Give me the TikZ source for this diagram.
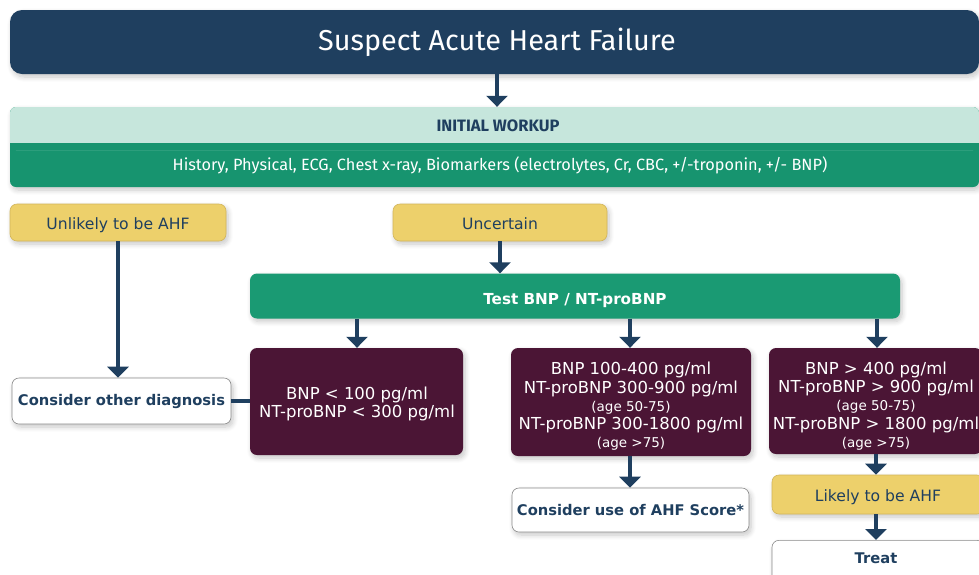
\documentclass[tikz,border=0pt]{standalone}
\usepackage{fontspec}
\setmainfont{DejaVu Sans}
\newfontfamily\titlefont{Fira Sans}
\usetikzlibrary{arrows.meta,shadows.blur}

\definecolor{navy}{HTML}{1F3F5F}
\definecolor{mint}{HTML}{C6E6DC}
\definecolor{workgreen}{HTML}{17946F}
\definecolor{testgreen}{HTML}{1A9A73}
\definecolor{plum}{HTML}{4B1535}
\definecolor{gold}{HTML}{EDD06B}
\definecolor{goldline}{HTML}{D2B55A}
\definecolor{greyline}{HTML}{8A8A8A}

\tikzset{
  shade box/.style={blur shadow={shadow blur steps=8, shadow xshift=2pt,
      shadow yshift=-3pt, shadow opacity=22, shadow blur radius=5pt}},
  box/.style={rounded corners=7pt, inner sep=0pt, align=center, shade box},
  titlebox/.style={box, rounded corners=12pt, fill=navy, text=white},
  yellowbox/.style={box, fill=gold, draw=goldline, line width=0.6pt,
      text=navy, font=\fontsize{15.6}{18}\selectfont,
      text height=14.4pt, text depth=0pt},
  greenbox/.style={box, fill=testgreen, text=white,
      font=\bfseries\fontsize{15.2}{18}\selectfont,
      text height=16pt, text depth=0pt},
  plumbox/.style={box, fill=plum},
  plumtext/.style={text=white, align=center, inner sep=0pt,
      font=\fontsize{16.5}{18.3}\selectfont},
  whitebox/.style={box, fill=white, draw=greyline, line width=0.6pt,
      text=navy, font=\bfseries\fontsize{14.7}{17}\selectfont},
  flow/.style={draw=navy, line width=3.5pt,
      -{Triangle[width=21pt,length=11pt]}},
  joint/.style={draw=navy, line width=3.5pt},
}
\newcommand{\agenote}[1]{{\fontsize{13.5}{14}\selectfont #1}}

\begin{document}
\begin{tikzpicture}[x=1pt,y=-1pt]
  \useasboundingbox (0,0) rectangle (979,574);
  \clip (0,0) rectangle (979,574);

  % title
  \node[titlebox, minimum width=969pt, minimum height=64pt] (title) at (494.5,42) {};
  \node[text=white, font=\titlefont\fontsize{28.8}{32}\selectfont] (titletext) at (497,42)
    {Suspect Acute Heart Failure};

  % initial workup block: light header over a green body
  \path[shade box, fill=workgreen, rounded corners=6pt]
    (10,107) rectangle (979,187);
  \fill[mint, rounded corners=6pt] (10,107) rectangle (979,150);
  \fill[mint] (10,130) rectangle (979,143);
  \fill[workgreen] (10,143) rectangle (979,150);
  \node[inner sep=0pt, minimum width=969pt, minimum height=36pt] (workup) at (494.5,125) {};
  \node[text=navy, font=\titlefont\bfseries\fontsize{16.5}{19}\selectfont] (workuphead) at (498,126)
    {INITIAL WORKUP};
  \node[text=white, font=\titlefont\fontsize{16.3}{19}\selectfont] (workupbody) at (500,165)
    {History, Physical, ECG, Chest x-ray, Biomarkers (electrolytes, Cr, CBC, +/-troponin, +/- BNP)};

  % first split
  \node[yellowbox, minimum width=216pt, minimum height=37pt] (unlikely) at (118,222.5)
    {Unlikely to be AHF};
  \node[yellowbox, minimum width=214pt, minimum height=37pt] (uncertain) at (500,222.5)
    {Uncertain};

  \node[greenbox, minimum width=650pt, minimum height=45pt] (test) at (575,296)
    {Test BNP / NT-proBNP};

  % BNP ranges
  \node[plumbox, minimum width=213pt, minimum height=107pt] (low) at (356.5,401.5) {};
  \node[plumtext] (lowtext) at (357,404)
    {BNP < 100 pg/ml\\NT-proBNP < 300 pg/ml};
  \node[plumbox, minimum width=240pt, minimum height=108pt] (mid) at (631,402) {};
  \node[plumtext] (midtext) at (631,406.5)
    {BNP 100-400 pg/ml\\NT-proBNP 300-900 pg/ml\\\agenote{(age 50-75)}\\
     NT-proBNP 300-1800 pg/ml\\\agenote{(age >75)}};
  \node[plumbox, minimum width=213pt, minimum height=106pt] (high) at (875.5,401) {};
  \node[plumtext] (hightext) at (876,406)
    {BNP > 400 pg/ml\\NT-proBNP > 900 pg/ml\\\agenote{(age 50-75)}\\
     NT-proBNP > 1800 pg/ml\\\agenote{(age >75)}};

  % outcomes
  \node[whitebox, minimum width=219pt, minimum height=46pt] (other) at (121.5,401)
    {Consider other diagnosis};
  \node[whitebox, minimum width=237pt, minimum height=44pt] (score) at (630.5,510)
    {Consider use of AHF Score*};
  \node[yellowbox, minimum width=212pt, minimum height=39pt] (likely) at (878,494.5)
    {Likely to be AHF};
  \node[whitebox, minimum width=212pt, minimum height=50pt, anchor=north] (treat) at (878,540)
    {};
  \node[text=navy, font=\bfseries\fontsize{14.7}{17}\selectfont] (treattext) at (876,558) {Treat};

  % connectors
  \draw[flow] (title.south -| 497,0) -- (workup.north -| 497,0);
  \draw[flow] (uncertain) -- (test.north -| uncertain);
  \draw[flow] (unlikely.south) -- (unlikely.south |- other.north);
  \draw[joint] (other.east) -- (low.west |- other.east);
  \draw[flow] (test.south -| 357,0) -- (low.north -| 357,0);
  \draw[flow] (test.south -| 630,0) -- (mid.north -| 630,0);
  \draw[flow] (test.south -| 877,0) -- (high.north -| 877,0);
  \draw[flow] (mid.south -| 630,0) -- (score.north -| 630,0);
  \draw[flow] (high.south -| 876,0) -- (likely.north -| 876,0);
  \draw[flow] (likely.south -| 876,0) -- (treat.north -| 876,0);
\end{tikzpicture}
\end{document}
